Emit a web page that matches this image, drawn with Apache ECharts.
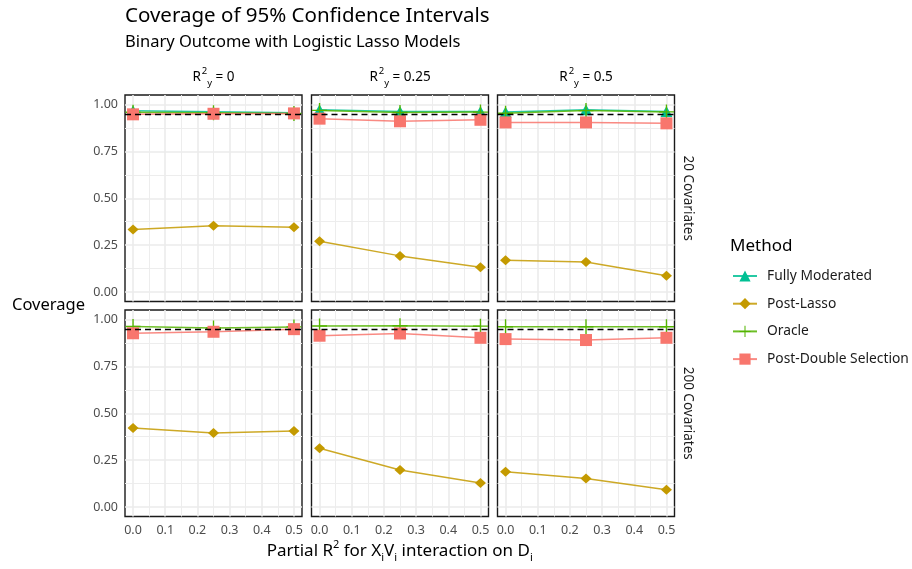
<!DOCTYPE html>
<html>
<head>
<meta charset="utf-8">
<script src="https://cdn.jsdelivr.net/npm/echarts@6/dist/echarts.min.js"></script>
<style>
  html, body { margin: 0; padding: 0; background: #fff; }
  #chart { width: 912px; height: 569px; }
</style>
</head>
<body>
<div id="chart"></div>
<script>
// x positions (partial R2 of the interaction on D)
const xValues = [0, 0.25, 0.5];
const r2yLabels = ['0', '0.25', '0.5'];
const covariateLabels = ['20 Covariates', '200 Covariates'];
const methods = ['Fully Moderated', 'Post-Lasso', 'Oracle', 'Post-Double Selection'];
const nominal = 0.95;

// 20 covariates, one row per R2y panel
const fullyModerated20 = [[0.966, 0.961, 0.956], [0.972, 0.962, 0.962], [0.960, 0.972, 0.962]];
const postLasso20 = [[0.334, 0.353, 0.346], [0.271, 0.193, 0.133], [0.170, 0.160, 0.087]];
const oracle20 = [[0.958, 0.956, 0.952], [0.968, 0.957, 0.959], [0.953, 0.967, 0.960]];
const postDouble20 = [[0.947, 0.950, 0.952], [0.924, 0.910, 0.918], [0.904, 0.904, 0.899]];

// 200 covariates (no fully moderated estimates)
const postLasso200 = [[0.422, 0.395, 0.406], [0.314, 0.198, 0.128], [0.188, 0.152, 0.092]];
const oracle200 = [[0.962, 0.954, 0.960], [0.965, 0.966, 0.964], [0.961, 0.961, 0.961]];
const postDouble200 = [[0.926, 0.934, 0.948], [0.913, 0.925, 0.902], [0.895, 0.890, 0.902]];

const colors = {
  'Fully Moderated': '#00C094',
  'Post-Lasso': '#C49A00',
  'Oracle': '#53B400',
  'Post-Double Selection': '#F8766D'
};
const symbols = {
  'Fully Moderated': ['triangle', [12, 11]],
  'Post-Lasso': ['diamond', [11, 10]],
  'Oracle': ['path://M4.55,0h0.9v10h-0.9z M0,4.55h10v0.9h-10z', [15, 15]],
  'Post-Double Selection': ['rect', [12, 12]]
};

const FONT = 'Noto Sans';
const colLeft = [125, 311.5, 497.5];
const rowTop = [95, 310];
const panelW = 177;
const panelH = 206.5;
const padX = panelW * 0.025 / 0.55;
const padY = panelH * 0.05 / 1.1;

const grids = [], xAxes = [], yAxes = [], series = [], graphics = [];

const majorLine = { show: true, lineStyle: { color: '#EBEBEB', width: 1.6 } };
const minorLine = { show: true, lineStyle: { color: '#EDEDED', width: 1 } };
const tickText = { color: '#4D4D4D', fontSize: 12.5, fontFamily: FONT, margin: 7 };

function addLine(name, values, axisIdx, withRef) {
  const s = {
    name: name,
    type: 'line',
    xAxisIndex: axisIdx,
    yAxisIndex: axisIdx,
    data: xValues.map((x, i) => [x, values[i]]),
    symbol: symbols[name][0],
    symbolSize: symbols[name][1],
    showAllSymbol: true,
    clip: false,
    color: colors[name],
    lineStyle: { width: 1.5, opacity: 0.85 },
    emphasis: { disabled: true },
    animation: false
  };
  if (withRef) {
    s.markLine = {
      silent: true,
      symbol: 'none',
      label: { show: false },
      lineStyle: { color: '#000', type: [6, 4], width: 1.4 },
      data: [{ yAxis: nominal }]
    };
  }
  series.push(s);
}

for (let r = 0; r < 2; r++) {
  for (let c = 0; c < 3; c++) {
    const L = colLeft[c], T = rowTop[r];
    const base = grids.length;
    // horizontal grid lines + y labels
    grids.push({ left: L, top: T + padY, width: panelW, height: panelH - 2 * padY });
    xAxes.push({ gridIndex: base, type: 'value', min: 0, max: 1, show: false });
    yAxes.push({
      gridIndex: base, type: 'value', min: 0, max: 1, interval: 0.25,
      axisLine: { show: false }, axisTick: { show: false },
      axisLabel: Object.assign({ show: c === 0, formatter: v => v.toFixed(2) }, tickText),
      splitLine: majorLine,
      minorTick: { show: false, splitNumber: 2 },
      minorSplitLine: minorLine
    });
    // vertical grid lines + x labels
    grids.push({ left: L + padX, top: T, width: panelW - 2 * padX, height: panelH });
    xAxes.push({
      gridIndex: base + 1, type: 'value', min: 0, max: 0.5, interval: 0.1,
      axisLine: { show: false }, axisTick: { show: false },
      axisLabel: Object.assign({ show: r === 1, formatter: v => v.toFixed(1) }, tickText),
      splitLine: majorLine,
      minorTick: { show: false, splitNumber: 2 },
      minorSplitLine: minorLine
    });
    yAxes.push({ gridIndex: base + 1, type: 'value', min: 0, max: 1, show: false });
    // panel box holding the data
    grids.push({ left: L, top: T, width: panelW, height: panelH, show: true,
      borderColor: '#1A1A1A', borderWidth: 1.4, backgroundColor: 'transparent' });
    xAxes.push({ gridIndex: base + 2, type: 'value', min: -0.025, max: 0.525, show: false });
    yAxes.push({ gridIndex: base + 2, type: 'value', min: -0.05, max: 1.05, show: false });

    const ax = base + 2;
    if (r === 0) {
      addLine('Fully Moderated', fullyModerated20[c], ax, false);
      addLine('Post-Lasso', postLasso20[c], ax, true);
      addLine('Oracle', oracle20[c], ax, false);
      addLine('Post-Double Selection', postDouble20[c], ax, false);
    } else {
      addLine('Post-Lasso', postLasso200[c], ax, true);
      addLine('Oracle', oracle200[c], ax, false);
      addLine('Post-Double Selection', postDouble200[c], ax, false);
    }
  }
}

const stripRich = {
  m: { fontSize: 13.5, fontFamily: FONT, color: '#1A1A1A', lineHeight: 22 },
  sup: { fontSize: 9.5, fontFamily: FONT, color: '#1A1A1A', verticalAlign: 'top', lineHeight: 22, padding: [0, 0, 10, 1] },
  sub: { fontSize: 9.5, fontFamily: FONT, color: '#1A1A1A', verticalAlign: 'bottom', lineHeight: 22, padding: [8, 0, 0, 0] }
};

// column strips
r2yLabels.forEach((lab, c) => {
  graphics.push({
    type: 'text', x: colLeft[c] + panelW / 2, y: 77,
    style: { text: '{m|R}{sup|2}{sub|y}{m| = ' + lab + '}', rich: stripRich, align: 'center', verticalAlign: 'middle' }
  });
});
// row strips
covariateLabels.forEach((lab, r) => {
  graphics.push({
    type: 'text', x: 688, y: rowTop[r] + panelH / 2, rotation: -Math.PI / 2,
    style: { text: lab, font: '13.5px "' + FONT + '"', fill: '#1A1A1A', align: 'center', verticalAlign: 'middle' }
  });
});
// axis titles
graphics.push({
  type: 'text', x: 12, y: 305,
  style: { text: 'Coverage', font: '16.5px "' + FONT + '"', fill: '#000', align: 'left', verticalAlign: 'middle' }
});
const xtRich = {
  m: { fontSize: 17, fontFamily: FONT, color: '#000', lineHeight: 24 },
  sup: { fontSize: 11, fontFamily: FONT, color: '#000', verticalAlign: 'top', lineHeight: 24, padding: [0, 0, 11, 0] },
  sub: { fontSize: 11, fontFamily: FONT, color: '#000', verticalAlign: 'bottom', lineHeight: 24, padding: [9, 0, 0, 0] }
};
graphics.push({
  type: 'text', x: (colLeft[0] + colLeft[2] + panelW) / 2, y: 551,
  style: {
    text: '{m|Partial R}{sup|2}{m| for X}{sub|i}{m|V}{sub|i}{m| interaction on D}{sub|i}',
    rich: xtRich, align: 'center', verticalAlign: 'middle'
  }
});
// legend title
graphics.push({
  type: 'text', x: 730, y: 246,
  style: { text: 'Method', font: '17px "' + FONT + '"', fill: '#000', align: 'left', verticalAlign: 'middle' }
});

const chart = echarts.init(document.getElementById('chart'), null, { renderer: 'canvas' });
chart.setOption({
  animation: false,
  backgroundColor: '#fff',
  title: {
    left: 120, top: 1,
    text: 'Coverage of 95% Confidence Intervals',
    subtext: 'Binary Outcome with Logistic Lasso Models',
    itemGap: 7,
    textStyle: { fontFamily: FONT, fontSize: 20.5, fontWeight: 'normal', color: '#000' },
    subtextStyle: { fontFamily: FONT, fontSize: 16.5, color: '#000' }
  },
  legend: {
    data: methods,
    orient: 'vertical',
    left: 732, top: 269,
    padding: 0,
    itemWidth: 24, itemHeight: 14, itemGap: 13.7,
    textStyle: { fontFamily: FONT, fontSize: 13.8, color: '#1A1A1A', padding: [0, 0, 0, 5] },
    selectedMode: false
  },
  grid: grids,
  xAxis: xAxes,
  yAxis: yAxes,
  series: series,
  graphic: graphics
});
</script>
</body>
</html>
